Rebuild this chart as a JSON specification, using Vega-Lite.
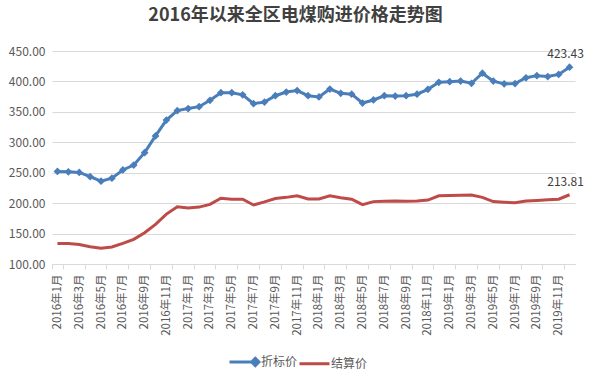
{
  "$schema": "https://vega.github.io/schema/vega-lite/v6.json",
  "width": 523,
  "height": 213,
  "autosize": {"type": "none"},
  "padding": {"left": 52, "top": 51, "right": 17, "bottom": 112},
  "background": "white",
  "title": {
    "text": "2016年以来全区电煤购进价格走势图",
    "font": "Noto Sans CJK SC",
    "fontSize": 18,
    "fontWeight": "bold",
    "color": "#404040",
    "anchor": "middle",
    "dx": -18,
    "offset": 20
  },
  "config": {
    "view": {"stroke": null},
    "font": "Noto Sans CJK SC"
  },
  "data": {
    "values": [
      {"月份": "2016年1月", "折标价": 252.0, "结算价": 133.5},
      {"月份": "2016年2月", "折标价": 251.5, "结算价": 133.5},
      {"月份": "2016年3月", "折标价": 250.5, "结算价": 132.0},
      {"月份": "2016年4月", "折标价": 243.5, "结算价": 128.5},
      {"月份": "2016年5月", "折标价": 236.0, "结算价": 126.0},
      {"月份": "2016年6月", "折标价": 241.0, "结算价": 128.0},
      {"月份": "2016年7月", "折标价": 254.5, "结算价": 134.0},
      {"月份": "2016年8月", "折标价": 262.5, "结算价": 140.5},
      {"月份": "2016年9月", "折标价": 283.0, "结算价": 151.5},
      {"月份": "2016年10月", "折标价": 310.5, "结算价": 165.0},
      {"月份": "2016年11月", "折标价": 336.5, "结算价": 182.0},
      {"月份": "2016年12月", "折标价": 352.0, "结算价": 194.0},
      {"月份": "2017年1月", "折标价": 355.5, "结算价": 192.0},
      {"月份": "2017年2月", "折标价": 358.5, "结算价": 193.5},
      {"月份": "2017年3月", "折标价": 369.0, "结算价": 198.0},
      {"月份": "2017年4月", "折标价": 381.5, "结算价": 208.0},
      {"月份": "2017年5月", "折标价": 381.5, "结算价": 206.5},
      {"月份": "2017年6月", "折标价": 378.0, "结算价": 206.5},
      {"月份": "2017年7月", "折标价": 363.5, "结算价": 197.0},
      {"月份": "2017年8月", "折标价": 366.0, "结算价": 202.0},
      {"月份": "2017年9月", "折标价": 376.5, "结算价": 207.5},
      {"月份": "2017年10月", "折标价": 382.5, "结算价": 209.5},
      {"月份": "2017年11月", "折标价": 385.0, "结算价": 212.0},
      {"月份": "2017年12月", "折标价": 376.5, "结算价": 207.0},
      {"月份": "2018年1月", "折标价": 374.5, "结算价": 207.0},
      {"月份": "2018年2月", "折标价": 387.5, "结算价": 212.0},
      {"月份": "2018年3月", "折标价": 380.5, "结算价": 209.0},
      {"月份": "2018年4月", "折标价": 379.0, "结算价": 206.5},
      {"月份": "2018年5月", "折标价": 364.5, "结算价": 197.5},
      {"月份": "2018年6月", "折标价": 369.5, "结算价": 202.5},
      {"月份": "2018年7月", "折标价": 376.5, "结算价": 203.0},
      {"月份": "2018年8月", "折标价": 376.0, "结算价": 203.5},
      {"月份": "2018年9月", "折标价": 376.5, "结算价": 203.0},
      {"月份": "2018年10月", "折标价": 379.0, "结算价": 203.5},
      {"月份": "2018年11月", "折标价": 387.0, "结算价": 205.0},
      {"月份": "2018年12月", "折标价": 398.5, "结算价": 212.0},
      {"月份": "2019年1月", "折标价": 399.5, "结算价": 212.5},
      {"月份": "2019年2月", "折标价": 400.5, "结算价": 213.0},
      {"月份": "2019年3月", "折标价": 397.0, "结算价": 213.5},
      {"月份": "2019年4月", "折标价": 413.5, "结算价": 209.5},
      {"月份": "2019年5月", "折标价": 400.5, "结算价": 202.5},
      {"月份": "2019年6月", "折标价": 396.0, "结算价": 201.5},
      {"月份": "2019年7月", "折标价": 396.5, "结算价": 200.5},
      {"月份": "2019年8月", "折标价": 406.0, "结算价": 203.5},
      {"月份": "2019年9月", "折标价": 409.5, "结算价": 204.5},
      {"月份": "2019年10月", "折标价": 408.0, "结算价": 205.5},
      {"月份": "2019年11月", "折标价": 411.5, "结算价": 206.5},
      {"月份": "2019年12月", "折标价": 423.43, "结算价": 213.81}
    ]
  },
  "transform": [
    {"fold": ["折标价", "结算价"], "as": ["系列", "价格"]}
  ],
  "encoding": {
    "x": {
      "field": "月份",
      "type": "ordinal",
      "sort": null,
      "scale": {"paddingInner": 0, "paddingOuter": 0},
      "axis": {
        "title": null,
        "values": ["2016年1月","2016年3月","2016年5月","2016年7月","2016年9月","2016年11月","2017年1月","2017年3月","2017年5月","2017年7月","2017年9月","2017年11月","2018年1月","2018年3月","2018年5月","2018年7月","2018年9月","2018年11月","2019年1月","2019年3月","2019年5月","2019年7月","2019年9月","2019年11月"],
        "labelAngle": -90,
        "labelFont": "Noto Sans CJK SC",
        "labelFontSize": 11.5,
        "labelColor": "#595959",
        "labelPadding": 5,
        "tickBand": "extent",
        "tickColor": "#D9D9D9",
        "tickSize": 5,
        "domainColor": "#D9D9D9",
        "grid": false
      }
    },
    "y": {
      "field": "价格",
      "type": "quantitative",
      "scale": {"domain": [100, 450], "nice": false, "zero": false},
      "axis": {
        "title": null,
        "values": [100, 150, 200, 250, 300, 350, 400, 450],
        "format": ".2f",
        "labelFont": "Noto Sans CJK SC",
        "labelFontSize": 12,
        "labelColor": "#595959",
        "labelPadding": 7,
        "ticks": false,
        "domain": false,
        "gridColor": "#D9D9D9",
        "gridWidth": 1
      }
    }
  },
  "layer": [
    {
      "mark": {"type": "line", "strokeWidth": 3},
      "encoding": {
        "color": {
          "field": "系列",
          "type": "nominal",
          "scale": {"domain": ["折标价", "结算价"], "range": ["#4A7EBB", "#BE4B48"]},
          "legend": {
            "title": null,
            "orient": "none",
            "direction": "horizontal",
            "legendX": 176,
            "legendY": 294,
            "labelFont": "Noto Sans CJK SC",
            "labelFontSize": 12,
            "labelColor": "#595959",
            "symbolSize": 900,
            "symbolStrokeWidth": 3,
            "labelOffset": 0,
            "columnPadding": -6,
            "encode": {
              "symbols": {
                "update": {
                  "shape": [
                    {"test": "datum.value === '折标价'", "value": "M-1,0L0.7,0M0.72,-0.24L0.96,0L0.72,0.24L0.48,0Z"},
                    {"value": "M-1,0L1,0"}
                  ],
                  "fill": {"scale": "color", "field": "value"},
                  "stroke": {"scale": "color", "field": "value"},
                  "strokeWidth": {"value": 3},
                  "opacity": {"value": 1}
                }
              }
            }
          }
        }
      }
    },
    {
      "transform": [{"filter": "datum['系列'] === '折标价'"}],
      "mark": {"type": "point", "shape": "diamond", "filled": true, "size": 60, "color": "#4A7EBB", "opacity": 1},
      "encoding": {}
    },
    {
      "transform": [{"filter": "datum['月份'] === '2019年12月'"}],
      "mark": {"type": "text", "dy": -13, "dx": -4, "fontSize": 12, "font": "Noto Sans CJK SC", "color": "#404040"},
      "encoding": {
        "text": {"field": "价格", "type": "quantitative", "format": ".2f"}
      }
    }
  ]
}
